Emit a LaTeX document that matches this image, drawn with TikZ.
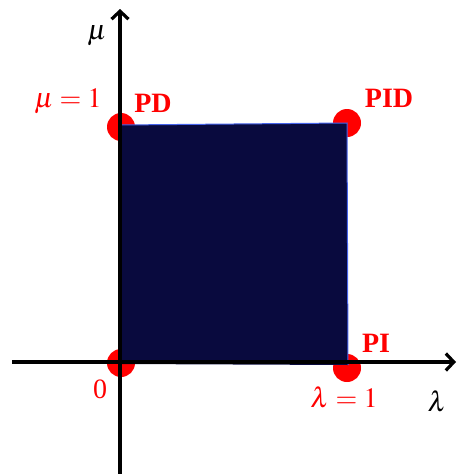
\documentclass[tikz,border=0pt]{standalone}
\usepackage{mathptmx}
\usepackage{fontspec}
\setmainfont{Liberation Serif}
\usepackage{xcolor}
\usetikzlibrary{arrows.meta}
\definecolor{bleunuit}{RGB}{9,10,62}
\definecolor{bordbleu}{RGB}{70,100,235}

\begin{document}
\begin{tikzpicture}[
  x = 1pt, y = -1pt,
  sommet/.style = {circle, fill=red, inner sep=0pt, minimum size=28pt},
  axe/.style    = {-{Straight Barb[length=8pt, width=17pt]}, line width=3.2pt},
  etiq/.style   = {text=red, inner sep=0pt, font=\fontsize{28}{32}\selectfont},
  nomaxe/.style = {inner sep=0pt, font=\fontsize{28}{32}\selectfont},
  titre/.style  = {etiq, font=\fontsize{28}{32}\selectfont\bfseries}
]
\useasboundingbox (0,0) rectangle (457,474);
% coins du carre
\coordinate (o)   at (120,364);
\coordinate (pd)  at (120,125);
\coordinate (pid) at (347,123);
\coordinate (pi)  at (348,365);
% sommets
\node[sommet] (no)   at (121,363) {};
\node[sommet] (npd)  at (121,127) {};
\node[sommet] (npid) at (347,123) {};
\node[sommet] (npi)  at (347,368) {};
% domaine
\fill[bleunuit] (o) -- (pd) -- (pid) -- (pi) -- cycle;
\draw[bordbleu, line width=1pt] (pd) -- (pid) -- (pi);
% axes
\coordinate (xg) at (12,362);
\coordinate (xd) at (456,362);
\coordinate (yb) at (120,474);
\coordinate (yh) at (120,9);
\draw[axe] (xg) -- (xd);
\draw[axe] (yb) -- (yh);
% etiquettes
\node[nomaxe] (mu)  at (97,36)   {$\mu$};
\node[nomaxe] (la)  at (437,401) {$\lambda$};
\node[etiq] (mu1)  at (68,101)  {$\mu=1$};
\node[etiq] (la1)  at (344,397) {$\lambda=1$};
\node[etiq] (zero) at (100,389) {0};
\node[titre] (tpd)  at (153,103) {PD};
\node[titre] (tpid) at (389,98)  {PID};
\node[titre] (tpi)  at (376,343) {PI};
\end{tikzpicture}
\end{document}
